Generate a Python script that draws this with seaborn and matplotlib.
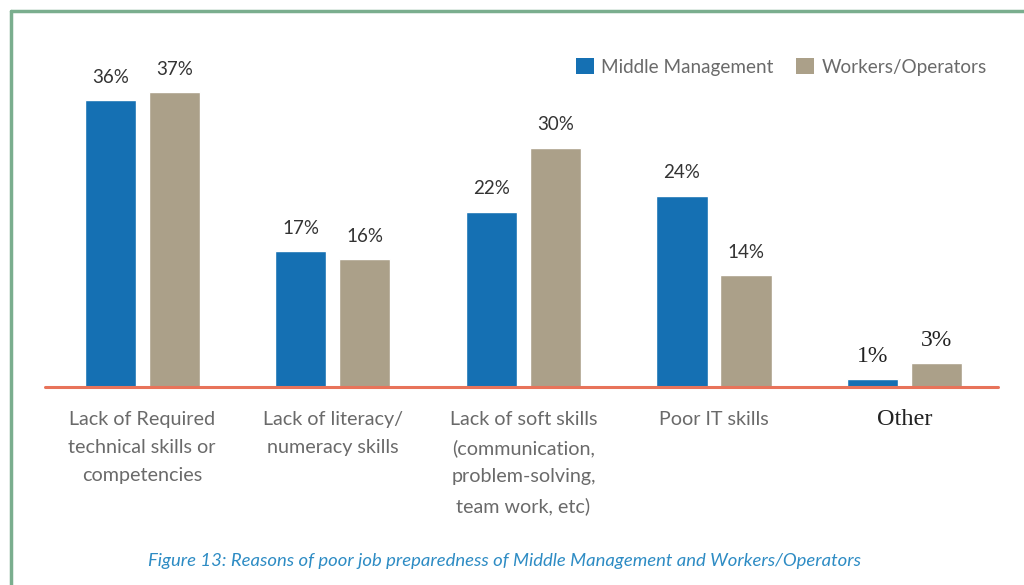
import matplotlib
matplotlib.use("Agg")
import matplotlib.pyplot as plt
from matplotlib.lines import Line2D
from matplotlib.patches import Patch
import seaborn as sns
import pandas as pd

categories = [
    "Lack of Required\ntechnical skills or\ncompetencies",
    "Lack of literacy/\nnumeracy skills",
    "Lack of soft skills\n(communication,\nproblem-solving,\nteam work, etc)",
    "Poor IT skills",
    "Other",
]
series_names = ["Middle Management", "Workers/Operators"]
middle_management = [36, 17, 22, 24, 1]
workers_operators = [37, 16, 30, 14, 3]
caption = "Figure 13: Reasons of poor job preparedness of Middle Management and Workers/Operators"

colors = {"Middle Management": "#1570b3", "Workers/Operators": "#aba089"}

df = pd.DataFrame({
    "category": categories * 2,
    "group": [series_names[0]] * len(categories) + [series_names[1]] * len(categories),
    "value": middle_management + workers_operators,
})

sns.set_theme(style="white")
plt.rcParams["font.family"] = ["Lato", "DejaVu Sans"]

W, H = 1024, 585
fig = plt.figure(figsize=(W / 100, H / 100), dpi=100)
fig.patch.set_facecolor("white")

ax = fig.add_axes([45 / W, 1 - 387 / H, (998 - 45) / W, (387 - 68) / H])
sns.barplot(data=df, x="category", y="value", hue="group", order=categories,
            hue_order=series_names, palette=colors, width=0.672, gap=0.2,
            saturation=1, legend=False, ax=ax)

ax.set_xlim(-0.51, 4.49)
ax.set_ylim(0, 40)
for s in ax.spines.values():
    s.set_visible(False)
ax.set_yticks([])
ax.set_xlabel("")
ax.set_ylabel("")
ax.axhline(0, color="#e8735a", lw=2.2, zorder=5, clip_on=False)

# value labels above each bar
for container, name in zip(ax.containers, series_names):
    for bar, cat in zip(container.patches, categories):
        v = bar.get_height()
        xc = bar.get_x() + bar.get_width() / 2
        if cat == "Other":
            ax.text(xc, v + 1.5, f"{int(v)}%", ha="center", va="bottom",
                    fontsize=17, color="#222222", family="Liberation Serif")
        else:
            ax.text(xc, v + 1.8, f"{int(v)}%", ha="center", va="bottom",
                    fontsize=13.5, color="#333333")

# category labels
ax.set_xticks(range(len(categories)))
ax.set_xticklabels([])
ax.tick_params(axis="x", length=0)
for i, cat in enumerate(categories):
    if cat == "Other":
        ax.text(i, -2.7, cat, ha="center", va="top", fontsize=17.5,
                color="#222222", family="Liberation Serif")
    else:
        ax.text(i, -3.0, cat, ha="center", va="top", fontsize=14.2,
                color="#6a6a6a", linespacing=1.78)

# legend
handles = [Patch(facecolor=colors[n], edgecolor="none") for n in series_names]
leg = fig.legend(handles, series_names, loc="upper right",
                 bbox_to_anchor=(1004 / W, 1 - 41 / H), ncol=2, frameon=False,
                 fontsize=13.6, handlelength=0.95, handleheight=0.95,
                 handletextpad=0.4, columnspacing=1.2)
for t in leg.get_texts():
    t.set_color("#6a6a6a")

# caption
fig.text(505 / W, 1 - 561 / H, caption, ha="center", va="center",
         fontsize=13.3, style="italic", color="#2e8cc4")

# frame along top and left
fig.add_artist(Line2D([11 / W, 1.0], [1 - 11 / H, 1 - 11 / H], color="#7aae8e", lw=2.5))
fig.add_artist(Line2D([11 / W, 11 / W], [0.0, 1 - 11 / H], color="#7aae8e", lw=2.5))

fig.savefig("out.png", dpi=100, facecolor="white")
